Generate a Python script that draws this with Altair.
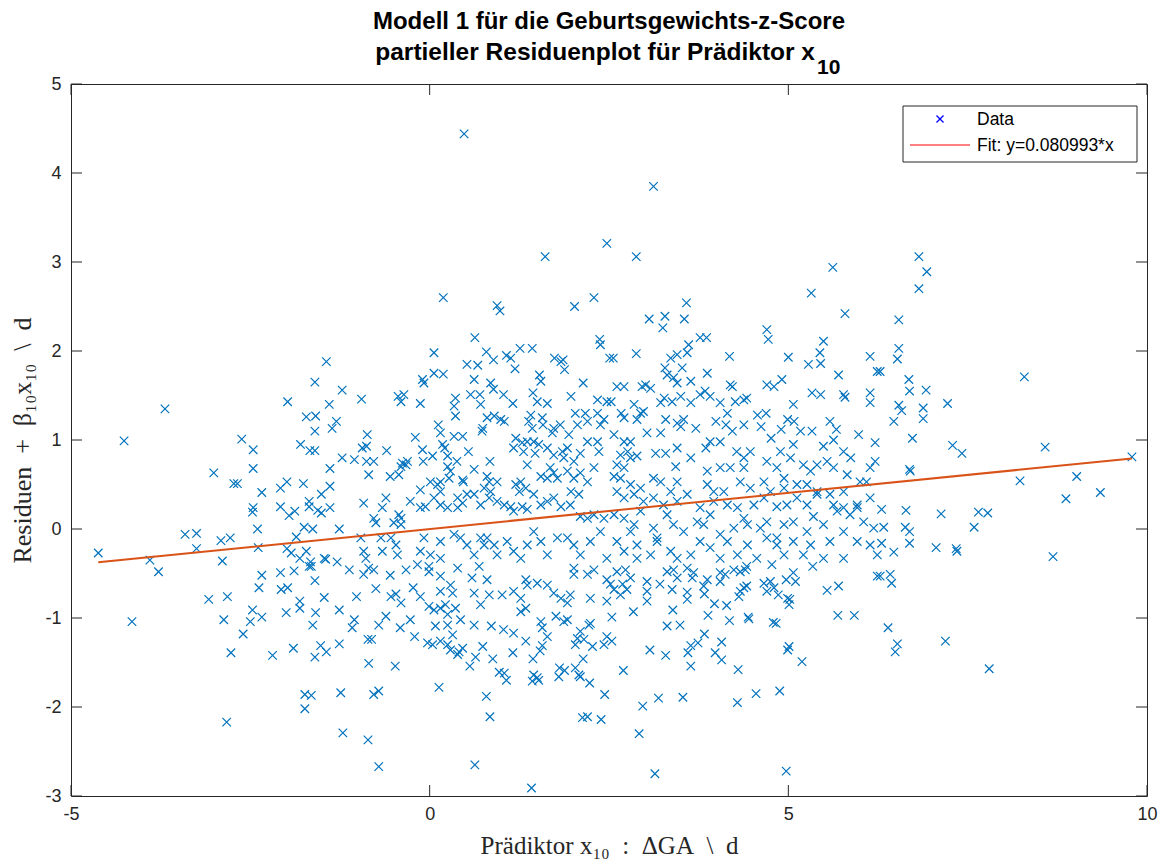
import altair as alt
import pandas as pd

# Partial residual data for predictor x10, grouped by region of the predictor range
far_left = [
    (-4.62, -0.27), (-4.26, 0.99), (-4.15, -1.04), (-3.90, -0.35), (-3.78, -0.48), (-3.69, 1.35),
    (-3.41, -0.06), (-3.25, -0.05), (-3.25, -0.22), (-3.08, -0.79), (-3.01, 0.63), (-2.91, -0.13),
    (-2.89, -0.36), (-2.87, -1.02), (-2.83, -2.17), (-2.82, -0.76), (-2.78, -0.10), (-2.77, -1.39),
    (-2.73, 0.51), (-2.68, 0.51), (-2.62, 1.01), (-2.60, -1.18), (-2.50, -1.04), (-2.47, -0.91),
    (-2.47, 0.19), (-2.46, 0.24), (-2.46, 0.68), (-2.46, 0.89), (-2.40, 0.00), (-2.39, -0.21),
    (-2.38, -0.66), (-2.34, -0.52), (-2.34, -0.99), (-2.34, 0.41), (-2.19, -1.42), (-2.08, -0.49),
    (-2.08, 0.46), (-2.08, 0.25), (-2.07, -0.68), (-2.00, -0.94), (-1.99, 0.53), (-1.99, -0.22),
    (-1.98, 1.43), (-1.98, -0.66), (-1.96, 0.15), (-1.93, -0.27), (-1.90, -1.34), (-1.89, -0.47),
    (-1.88, 0.20), (-1.86, -0.09), (-1.81, -0.33), (-1.81, -0.81), (-1.81, -0.89), (-1.80, 0.95),
    (-1.76, 0.51), (-1.75, 0.02), (-1.74, -1.86), (-1.74, -2.02), (-1.72, 1.26), (-1.72, -0.25),
    (-1.68, -0.42), (-1.68, 0.31), (-1.68, 0.25), (-1.67, 0.88), (-1.66, -0.37), (-1.65, -0.42),
    (-1.65, -1.87), (-1.63, 0.00), (-1.63, -1.08), (-1.60, 1.65), (-1.60, 1.10), (-1.60, 0.88),
    (-1.60, -0.58), (-1.60, -1.44), (-1.59, 1.27), (-1.59, -0.94), (-1.56, 0.21), (-1.52, -1.31),
    (-1.51, 0.39), (-1.51, 0.18), (-1.47, -0.33), (-1.47, -0.77), (-1.45, -0.34), (-1.44, 1.88),
    (-1.44, -1.38), (-1.40, 1.40), (-1.39, 0.68), (-1.39, 0.48), (-1.39, 0.24), (-1.36, 1.13),
    (-1.30, 1.21), (-1.29, -0.37), (-1.26, 0.00), (-1.26, -0.91), (-1.26, -1.29), (-1.24, -1.84),
    (-1.22, 1.56), (-1.22, 0.80), (-1.21, -2.29),
]

upper_tail = [
    (0.48, 4.44), (1.61, 3.06), (2.47, 3.21), (0.19, 2.60), (0.94, 2.51), (0.98, 2.45),
    (2.02, 2.50), (2.29, 2.60), (3.12, 3.85), (2.88, 3.06), (5.62, 2.94), (5.32, 2.65),
    (5.79, 2.42), (3.58, 2.54), (3.06, 2.36), (3.28, 2.39), (3.55, 2.36), (6.82, 3.06),
    (6.93, 2.89), (6.82, 2.70), (6.54, 2.35),
]

center_upper = [
    (-0.95, 1.46), (-0.44, 1.49), (-0.40, 1.43), (-0.36, 1.51), (-0.10, 1.68), (-0.08, 1.64),
    (0.06, 1.75), (0.19, 1.74), (-0.13, 1.41), (0.63, 2.15), (0.06, 1.98), (0.79, 1.99),
    (0.89, 1.90), (1.07, 1.95), (1.13, 1.92), (1.26, 2.03), (1.43, 2.03), (0.52, 1.85),
    (0.67, 1.84), (1.19, 1.80), (1.74, 1.92), (1.83, 1.88), (1.86, 1.90), (1.88, 1.79),
    (2.37, 2.13), (2.38, 2.07), (2.51, 1.92), (1.53, 1.73), (1.55, 1.66), (2.14, 1.64),
    (0.62, 1.68), (0.85, 1.64), (0.89, 1.57), (1.03, 1.51), (0.36, 1.47), (0.34, 1.38),
    (0.36, 1.27), (0.57, 1.51), (0.70, 1.51), (0.71, 1.40), (1.16, 1.41), (1.44, 1.53),
    (1.50, 1.43), (1.64, 1.41), (1.97, 1.49), (2.34, 1.45), (2.47, 1.43),
    (-0.87, 1.06), (-0.94, 0.91), (-0.88, 0.93), (-1.05, 0.78), (-0.88, 0.76), (-0.78, 0.76),
    (-0.85, 0.61), (-0.60, 0.88), (-0.55, 0.59), (-0.43, 0.61), (-0.38, 0.74), (-0.33, 0.72),
    (-0.40, 0.70), (-0.31, 0.76), (-0.20, 1.03), (-0.10, 0.89), (-0.09, 0.76), (0.04, 0.82),
    (0.12, 1.17), (0.15, 1.08), (0.18, 0.95), (0.21, 0.91), (0.25, 0.82), (0.34, 1.04),
    (0.46, 1.04), (0.54, 0.87), (0.38, 0.76), (0.25, 0.70), (0.73, 1.10), (0.74, 1.13),
    (0.80, 1.25), (0.90, 1.27), (0.99, 1.23), (1.04, 1.21), (0.84, 0.76), (0.62, 0.67),
    (0.46, 0.55), (0.47, 0.53), (0.29, 0.65), (0.27, 0.57), (0.15, 0.53), (0.80, 0.59),
    (0.83, 0.53), (0.94, 0.53), (0.76, 0.46), (0.85, 0.42), (1.20, 1.02), (1.29, 0.97),
    (1.36, 0.98), (1.17, 0.91), (1.31, 0.87), (1.45, 0.98), (1.52, 0.95), (1.47, 0.85),
    (1.36, 0.72), (1.27, 0.53), (1.20, 0.50), (1.34, 0.46), (1.25, 0.42), (1.55, 0.59),
    (1.41, 1.28), (1.38, 1.21), (1.43, 1.13), (1.57, 1.25), (1.58, 1.17), (1.73, 1.13),
    (1.71, 1.08), (1.82, 1.17), (1.94, 1.06), (2.03, 1.30), (2.17, 1.30), (2.20, 1.21),
    (2.06, 1.17), (2.34, 1.30), (2.43, 1.23), (2.38, 1.17), (1.64, 0.91), (1.73, 0.83),
    (1.85, 0.87), (1.92, 0.91), (1.87, 0.80), (2.01, 0.76), (2.10, 0.85), (2.20, 0.98),
    (2.34, 0.98), (2.36, 0.87), (2.29, 0.69), (1.68, 0.69), (1.73, 0.63), (1.64, 0.57),
    (1.78, 0.57), (1.92, 0.65), (2.01, 0.57), (2.10, 0.63), (2.20, 0.53), (1.97, 0.42),
    (2.08, 0.39), (0.01, 0.53), (0.11, 0.50), (0.15, 0.42), (-0.13, 0.44), (0.06, 0.35),
    (0.15, 0.27), (-0.06, 0.25), (0.25, 0.24), (0.39, 0.35), (0.46, 0.29), (0.39, 0.24),
    (0.52, 0.39), (0.62, 0.39), (0.71, 0.27), (0.83, 0.35), (0.94, 0.31), (1.04, 0.27),
    (1.13, 0.25), (1.17, 0.20), (1.29, 0.25), (1.36, 0.22), (1.45, 0.39), (1.55, 0.27),
    (1.64, 0.31), (1.73, 0.35), (1.83, 0.25), (1.96, 0.27), (2.10, 0.14), (2.20, 0.12),
    (2.29, 0.16), (2.43, 0.12), (-0.92, 0.29), (-0.61, 0.35), (-0.66, 0.24), (-0.78, 0.12),
    (-0.75, 0.07), (-0.50, 0.07), (-0.43, 0.16), (-0.40, 0.12), (-0.27, 0.31), (-0.13, 0.24),
    (-0.40, 0.05), (-0.96, -0.10), (-0.92, -0.25), (-0.89, -0.33), (-0.68, -0.10), (-0.54, -0.10),
    (-0.47, -0.18), (-0.45, -0.29), (-0.66, -0.25), (-0.08, -0.10), (-0.13, -0.25), (0.01, -0.29),
    (0.15, -0.14), (0.34, -0.06), (0.15, -0.33), (0.43, -0.10), (0.52, -0.18), (0.62, -0.29),
    (0.71, -0.10), (0.76, -0.18), (0.80, -0.10), (0.90, -0.18), (0.94, -0.29), (1.08, -0.14),
    (1.17, -0.25), (1.27, -0.33), (1.36, -0.18), (1.45, -0.03), (1.55, -0.14), (1.64, -0.29),
    (1.78, -0.10), (1.92, -0.10), (2.01, -0.18), (2.10, -0.29), (2.24, -0.14), (2.38, -0.03),
    (2.47, -0.33),
]

center_lower = [
    (1.42, -2.91), (0.63, -2.65), (-0.71, -2.67), (-0.86, -2.37), (0.84, -2.11), (0.79, -1.88),
    (2.13, -2.12), (2.20, -2.11), (2.39, -2.14), (2.44, -1.86), (-0.78, -1.86), (-0.71, -1.82),
    (0.13, -1.78), (-0.85, -1.51), (-0.48, -1.54), (0.56, -1.54), (0.64, -1.44), (0.74, -1.32),
    (0.88, -1.46), (0.97, -1.61), (1.04, -1.62), (1.07, -1.70), (1.16, -1.39), (1.44, -1.46),
    (1.54, -1.37), (1.57, -1.31), (1.43, -1.71), (1.50, -1.67), (1.52, -1.70), (1.45, -1.64),
    (1.81, -1.56), (1.88, -1.59), (1.80, -1.66), (2.03, -1.56), (2.08, -1.64), (2.10, -1.66),
    (2.23, -1.73), (2.14, -1.46), (2.27, -1.32), (2.43, -1.30), (2.47, -1.21), (2.15, -1.24),
    (2.06, -1.23), (2.10, -1.15), (2.22, -1.08), (2.03, -1.30), (1.34, -1.26), (1.27, -0.93),
    (1.34, -0.89), (1.55, -1.04), (1.57, -1.11), (1.64, -1.21), (1.76, -0.98), (1.92, -1.02),
    (1.87, -1.04), (2.24, -1.06), (-1.08, -1.11), (-1.05, -1.02), (-0.71, -1.08), (-0.61, -0.98),
    (-0.41, -1.11), (-0.27, -1.02), (-0.21, -1.21), (-0.86, -1.24), (-0.81, -1.24), (-1.02, -0.76),
    (-0.75, -0.67), (-0.55, -0.52), (-0.47, -0.73), (-0.54, -0.76), (-0.40, -0.83), (-0.23, -0.66),
    (-0.13, -0.76), (-0.03, -1.28), (0.04, -1.30), (0.08, -1.09), (0.15, -1.26), (0.25, -1.30),
    (0.29, -1.36), (0.39, -1.41), (0.41, -1.38), (0.46, -1.34), (0.43, -1.02), (0.36, -0.89),
    (0.25, -1.08), (0.32, -1.19), (-0.01, -0.87), (0.06, -0.91), (0.15, -0.89), (0.25, -0.96),
    (0.22, -0.85), (0.32, -0.72), (0.15, -0.70), (0.29, -0.63), (0.15, -0.53), (-0.01, -0.48),
    (0.62, -1.08), (0.86, -1.09), (1.03, -1.13), (1.17, -1.17), (1.17, -0.70), (1.01, -0.74),
    (0.83, -0.74), (0.62, -0.72), (0.71, -0.85), (0.80, -0.57), (0.59, -0.55), (0.69, -0.42),
    (0.39, -0.44), (1.27, -0.78), (1.36, -0.63), (1.34, -0.57), (1.50, -0.61), (1.64, -0.63),
    (1.73, -0.72), (1.83, -0.78), (1.92, -0.83), (1.96, -0.74), (2.01, -0.51), (2.20, -0.51),
    (2.24, -0.78), (2.47, -0.81), (2.47, -0.57), (2.29, -0.46), (2.01, -0.44), (-1.12, -0.46),
    (-0.92, -0.51), (-0.85, -0.44), (-0.78, -0.46), (-0.33, -0.46), (-0.17, -0.40), (-0.01, -0.42),
]

right_center = [
    (3.25, 2.26), (4.70, 2.24), (4.72, 2.13), (3.77, 2.15), (3.86, 2.15), (5.49, 2.11),
    (2.56, 1.92), (2.88, 1.97), (3.36, 1.92), (3.45, 1.96), (3.59, 1.98), (3.61, 2.07),
    (3.52, 1.81), (3.28, 1.81), (3.31, 1.73), (3.40, 1.70), (3.45, 1.64), (3.87, 1.75),
    (3.64, 1.66), (4.18, 1.94), (4.19, 1.62), (4.22, 1.60), (5.00, 1.93), (5.28, 1.85),
    (5.44, 1.98), (5.45, 1.86), (5.70, 1.73), (6.14, 1.94), (6.24, 1.77), (4.70, 1.62),
    (4.80, 1.60), (4.91, 1.68), (5.33, 1.53), (5.45, 1.51), (5.77, 1.51), (5.79, 1.48),
    (6.14, 1.53), (6.14, 1.42), (2.61, 1.60), (2.71, 1.60), (2.96, 1.60), (3.01, 1.62),
    (3.08, 1.58), (2.53, 1.43), (2.67, 1.30), (2.71, 1.25), (2.85, 1.40), (2.94, 1.30),
    (2.89, 1.23), (2.98, 1.32), (3.22, 1.42), (3.27, 1.47), (3.38, 1.43), (3.50, 1.49),
    (3.64, 1.42), (3.77, 1.51), (3.84, 1.55), (3.91, 1.49), (4.05, 1.42), (4.15, 1.30),
    (4.26, 1.43), (4.38, 1.45), (4.42, 1.47), (3.29, 1.23), (3.45, 1.19), (3.50, 1.15),
    (3.54, 1.23), (3.71, 1.13), (3.99, 1.21), (4.13, 1.17), (4.22, 1.10), (4.38, 1.17),
    (4.57, 1.28), (4.69, 1.30), (4.62, 1.15), (4.76, 1.02), (4.90, 1.12), (4.99, 1.23),
    (5.08, 1.21), (5.07, 1.40), (5.17, 1.10), (5.33, 1.10), (5.58, 1.21), (5.67, 1.12),
    (5.98, 1.06), (6.21, 0.97), (5.63, 1.00), (5.49, 0.93), (2.57, 1.06), (2.71, 0.98),
    (2.80, 0.98), (2.66, 0.83), (2.76, 0.87), (2.80, 0.80), (2.89, 0.82), (2.61, 0.72),
    (2.71, 0.69), (2.66, 0.57), (2.57, 0.59), (3.03, 1.08), (3.22, 1.08), (3.15, 0.85),
    (3.29, 0.85), (3.45, 0.91), (3.43, 0.70), (3.64, 0.80), (3.85, 0.91), (3.91, 0.98),
    (3.87, 0.65), (4.05, 0.98), (4.05, 0.69), (4.19, 0.69), (4.28, 0.87), (4.38, 0.80),
    (4.38, 0.69), (4.47, 0.87), (4.70, 0.76), (4.84, 0.69), (4.89, 0.87), (5.03, 0.80),
    (5.07, 0.95), (5.21, 0.72), (5.31, 0.65), (5.40, 0.72), (5.54, 0.76), (5.63, 0.69),
    (5.77, 0.87), (5.87, 0.80), (5.82, 0.61), (6.14, 0.69), (6.21, 0.76),
    (2.80, 0.50), (2.94, 0.46), (3.12, 0.57), (3.22, 0.53), (3.45, 0.53), (3.36, 0.42),
    (3.87, 0.50), (3.96, 0.42), (4.10, 0.42), (4.33, 0.53), (4.47, 0.46), (4.66, 0.53),
    (4.75, 0.42), (4.94, 0.57), (4.94, 0.46), (5.12, 0.50), (5.26, 0.50), (5.40, 0.42),
    (5.58, 0.39), (5.77, 0.42), (6.00, 0.53), (6.09, 0.53),
    (2.61, 0.42), (2.71, 0.35), (2.85, 0.39), (2.98, 0.31), (3.12, 0.35), (3.26, 0.27),
    (3.45, 0.31), (3.59, 0.39), (3.77, 0.24), (3.96, 0.31), (4.15, 0.27), (4.29, 0.24),
    (4.52, 0.27), (4.66, 0.35), (4.84, 0.25), (4.98, 0.27), (5.12, 0.35), (5.26, 0.27),
    (5.40, 0.39), (5.63, 0.27), (5.77, 0.24), (5.96, 0.27), (6.14, 0.35),
    (2.57, 0.16), (2.71, 0.12), (2.85, 0.05), (2.80, -0.03), (2.94, 0.20), (3.12, 0.01),
    (3.17, -0.10), (3.31, 0.16), (3.40, 0.05), (3.54, -0.03), (3.73, 0.08), (3.82, 0.05),
    (3.91, 0.16), (4.05, -0.06), (4.24, 0.01), (4.38, 0.12), (4.43, 0.05), (4.61, 0.01),
    (4.70, 0.08), (4.84, -0.10), (4.94, 0.05), (5.07, 0.08), (5.26, -0.03), (5.35, 0.14),
    (5.49, 0.05), (5.68, 0.20), (5.77, -0.03), (5.86, 0.16), (6.05, 0.08), (6.19, 0.01),
    (5.96, 0.24),
    (2.61, -0.14), (2.71, -0.25), (2.89, -0.18), (2.89, -0.33), (3.08, -0.29), (3.17, -0.14),
    (3.36, -0.25), (3.45, -0.33), (3.64, -0.29), (3.77, -0.14), (3.91, -0.21), (4.05, -0.33),
    (4.15, -0.14), (4.29, -0.29), (4.43, -0.18), (4.56, -0.33), (4.70, -0.10), (4.84, -0.18),
    (4.94, -0.29), (5.07, -0.14), (5.21, -0.29), (5.31, -0.18), (5.49, -0.33), (5.58, -0.14),
    (5.77, -0.33), (5.96, -0.14), (6.14, -0.18), (6.24, -0.29),
]

right_lower = [
    (4.97, -2.72), (3.14, -2.75), (2.92, -2.30), (2.97, -1.99), (3.19, -1.90), (3.53, -1.89),
    (4.29, -1.95), (4.55, -1.85), (4.88, -1.82), (2.70, -1.59), (3.07, -1.36), (3.29, -1.42),
    (3.64, -1.54), (3.60, -1.39), (3.64, -1.31), (3.74, -1.28), (3.83, -1.18), (3.98, -1.39),
    (4.07, -1.47), (4.07, -1.27), (4.30, -1.58), (4.99, -1.36), (5.01, -1.32), (5.19, -1.49),
    (3.31, -1.09), (3.49, -1.08), (3.39, -0.91), (2.84, -0.93), (2.54, -0.99), (2.54, -1.26),
    (3.88, -0.97), (4.18, -1.03), (4.44, -0.99), (4.45, -1.01), (4.79, -1.05), (4.83, -1.06),
    (5.69, -0.97), (5.92, -0.97), (5.54, -0.69), (5.70, -0.64), (6.24, -0.53), (5.02, -0.79),
    (5.01, -0.85), (4.99, -0.78), (3.97, -0.84), (4.14, -0.86), (3.59, -0.79), (3.59, -0.71),
    (3.03, -0.81), (3.03, -0.70), (3.03, -0.59), (3.21, -0.62), (3.38, -0.68), (3.83, -0.73),
    (3.82, -0.64), (3.87, -0.57), (4.05, -0.59), (4.31, -0.76), (4.38, -0.66), (4.42, -0.64),
    (4.33, -0.70), (4.70, -0.70), (4.80, -0.66), (4.86, -0.74), (4.66, -0.61), (4.75, -0.59),
    (4.97, -0.57), (5.10, -0.59), (5.07, -0.49), (2.61, -0.48), (2.73, -0.46), (2.80, -0.55),
    (2.69, -0.62), (2.57, -0.68), (2.75, -0.68), (2.66, -0.74), (2.52, -0.62), (3.31, -0.48),
    (3.40, -0.46), (3.45, -0.55), (3.59, -0.44), (3.68, -0.49), (3.66, -0.55), (4.05, -0.49),
    (4.12, -0.51), (4.24, -0.46), (4.33, -0.48), (4.40, -0.46), (4.42, -0.42), (4.77, -0.40),
    (5.34, -0.42),
]

far_right = [
    (6.54, 2.03), (6.52, 1.91), (6.28, 1.77), (6.68, 1.68), (6.69, 1.55), (6.92, 1.56),
    (8.29, 1.71), (7.22, 1.41), (6.54, 1.39), (6.58, 1.33), (6.88, 1.36), (6.88, 1.24),
    (6.47, 1.21), (6.73, 1.02), (7.29, 0.94), (7.42, 0.85), (8.58, 0.92), (9.79, 0.81),
    (6.69, 0.67), (6.70, 0.65), (8.23, 0.54), (9.02, 0.59), (9.35, 0.41), (8.87, 0.34),
    (6.30, 0.22), (6.64, 0.21), (7.13, 0.17), (7.65, 0.19), (7.78, 0.18), (7.59, 0.02),
    (6.33, 0.02), (6.63, 0.02), (6.69, -0.03), (6.30, -0.16), (6.69, -0.16), (6.47, -0.26),
    (7.06, -0.21), (7.34, -0.22), (7.35, -0.25), (8.69, -0.31), (6.42, -0.51), (6.44, -0.61),
    (6.28, -0.53), (6.39, -1.11), (6.52, -1.29), (6.49, -1.38), (7.19, -1.26), (7.80, -1.57),
]

fit_slope = 0.080993
x_ticks = [-5, 0, 5, 10]
y_ticks = [-3, -2, -1, 0, 1, 2, 3, 4, 5]

groups = [far_left, upper_tail, center_upper, center_lower, right_center, right_lower, far_right]
points = pd.DataFrame([p for g in groups for p in g], columns=["pred", "resid"])

x_lo, x_hi = points["pred"].min(), points["pred"].max()
fit = pd.DataFrame({"pred": [x_lo, x_hi], "resid": [fit_slope * x_lo, fit_slope * x_hi]})

W, H = 1076, 712
AXIS_COLOR = "#262626"
x_scale = alt.Scale(domain=[-5, 10], nice=False, zero=False)
y_scale = alt.Scale(domain=[-3, 5], nice=False, zero=False)
X_MARK = "M-1,-1L1,1M-1,1L1,-1"
SP = "\u2002"  # en space, for math-style spacing in the axis titles

x_axis = alt.Axis(
    values=x_ticks, labelExpr="'' + datum.value", domain=False, ticks=False, grid=False,
    labelFlush=False, labelOverlap=False,
    labelFont="Liberation Sans", labelFontSize=18, labelColor=AXIS_COLOR, labelPadding=9,
    title=f"Prädiktor x₁₀{SP}:{SP}ΔGA{SP}\\{SP}d", titleFont="Liberation Serif", titleFontSize=25,
    titleFontWeight="normal", titleColor=AXIS_COLOR, titleX=538, titleY=49,
    titleBaseline="middle", titleAlign="center",
)
y_axis = alt.Axis(
    values=y_ticks, labelExpr="'' + datum.value", domain=False, ticks=False, grid=False,
    labelFlush=False, labelOverlap=False,
    labelFont="Liberation Sans", labelFontSize=18, labelColor=AXIS_COLOR, labelPadding=10,
    title=f"Residuen{SP}+{SP}β₁₀x₁₀{SP}\\{SP}d", titleFont="Liberation Serif", titleFontSize=26,
    titleFontWeight="normal", titleColor=AXIS_COLOR, titleX=-49, titleY=356,
    titleBaseline="middle", titleAlign="center", titleAngle=270,
)

scatter = alt.Chart(points).mark_point(
    shape=X_MARK, size=72, filled=False, strokeWidth=1.2, color="#0072BD", opacity=1
).encode(
    x=alt.X("pred:Q", scale=x_scale, axis=x_axis),
    y=alt.Y("resid:Q", scale=y_scale, axis=y_axis),
)

fit_line = alt.Chart(fit).mark_line(color="#D95319", strokeWidth=2).encode(
    x=alt.X("pred:Q", scale=x_scale),
    y=alt.Y("resid:Q", scale=y_scale),
)

# inward ticks on all four sides of the box
xt = pd.DataFrame({"pred": x_ticks})
yt = pd.DataFrame({"resid": y_ticks})
tick_style = dict(color=AXIS_COLOR, strokeWidth=1)
ticks_bottom = alt.Chart(xt).mark_rule(**tick_style).encode(
    x=alt.X("pred:Q", scale=x_scale), y=alt.value(H), y2=alt.value(H - 11))
ticks_top = alt.Chart(xt).mark_rule(**tick_style).encode(
    x=alt.X("pred:Q", scale=x_scale), y=alt.value(0), y2=alt.value(11))
ticks_left = alt.Chart(yt).mark_rule(**tick_style).encode(
    y=alt.Y("resid:Q", scale=y_scale), x=alt.value(0), x2=alt.value(11))
ticks_right = alt.Chart(yt).mark_rule(**tick_style).encode(
    y=alt.Y("resid:Q", scale=y_scale), x=alt.value(W), x2=alt.value(W - 11))

one = alt.Data(values=[{}])

# title with subscript
title1 = alt.Chart(one).mark_text(
    text="Modell 1 für die Geburtsgewichts-z-Score", font="Liberation Sans", fontSize=24,
    fontWeight="bold", color="black", align="center", baseline="middle",
).encode(x=alt.value(538), y=alt.value(-62))
title2 = alt.Chart(one).mark_text(
    text="partieller Residuenplot für Prädiktor x", font="Liberation Sans", fontSize=24.5,
    fontWeight="bold", color="black", align="right", baseline="middle",
).encode(x=alt.value(744), y=alt.value(-31))
title_sub = alt.Chart(one).mark_text(
    text="10", font="Liberation Sans", fontSize=21, fontWeight="bold", color="black",
    align="left", baseline="middle",
).encode(x=alt.value(746), y=alt.value(-16))

# legend box
leg_box = alt.Chart(one).mark_rect(fill="white", stroke=AXIS_COLOR, strokeWidth=1).encode(
    x=alt.value(832), x2=alt.value(1066), y=alt.value(22), y2=alt.value(78))
leg_mark = alt.Chart(one).mark_point(
    shape=X_MARK, size=50, filled=False, strokeWidth=1.3, color="#0000FF", opacity=1
).encode(x=alt.value(869), y=alt.value(35))
leg_line = alt.Chart(one).mark_rule(color="#FF0000", strokeWidth=1).encode(
    x=alt.value(839), x2=alt.value(899), y=alt.value(61))
leg_text1 = alt.Chart(one).mark_text(
    text="Data", font="Liberation Sans", fontSize=17.5, color="black", align="left", baseline="middle"
).encode(x=alt.value(906), y=alt.value(36))
leg_text2 = alt.Chart(one).mark_text(
    text="Fit: y=0.080993*x", font="Liberation Sans", fontSize=17.5, color="black",
    align="left", baseline="middle"
).encode(x=alt.value(906), y=alt.value(62))

chart = alt.layer(
    scatter, fit_line, ticks_bottom, ticks_top, ticks_left, ticks_right,
    title1, title2, title_sub, leg_box, leg_mark, leg_line, leg_text1, leg_text2,
).properties(
    width=W, height=H,
    autosize=alt.AutoSizeParams(type="none"),
    padding={"left": 71, "top": 84, "right": 17, "bottom": 65},
    background="white",
).configure_view(stroke=AXIS_COLOR, strokeWidth=1)

chart.save("out.html", embed_options={"renderer": "svg", "actions": False})
